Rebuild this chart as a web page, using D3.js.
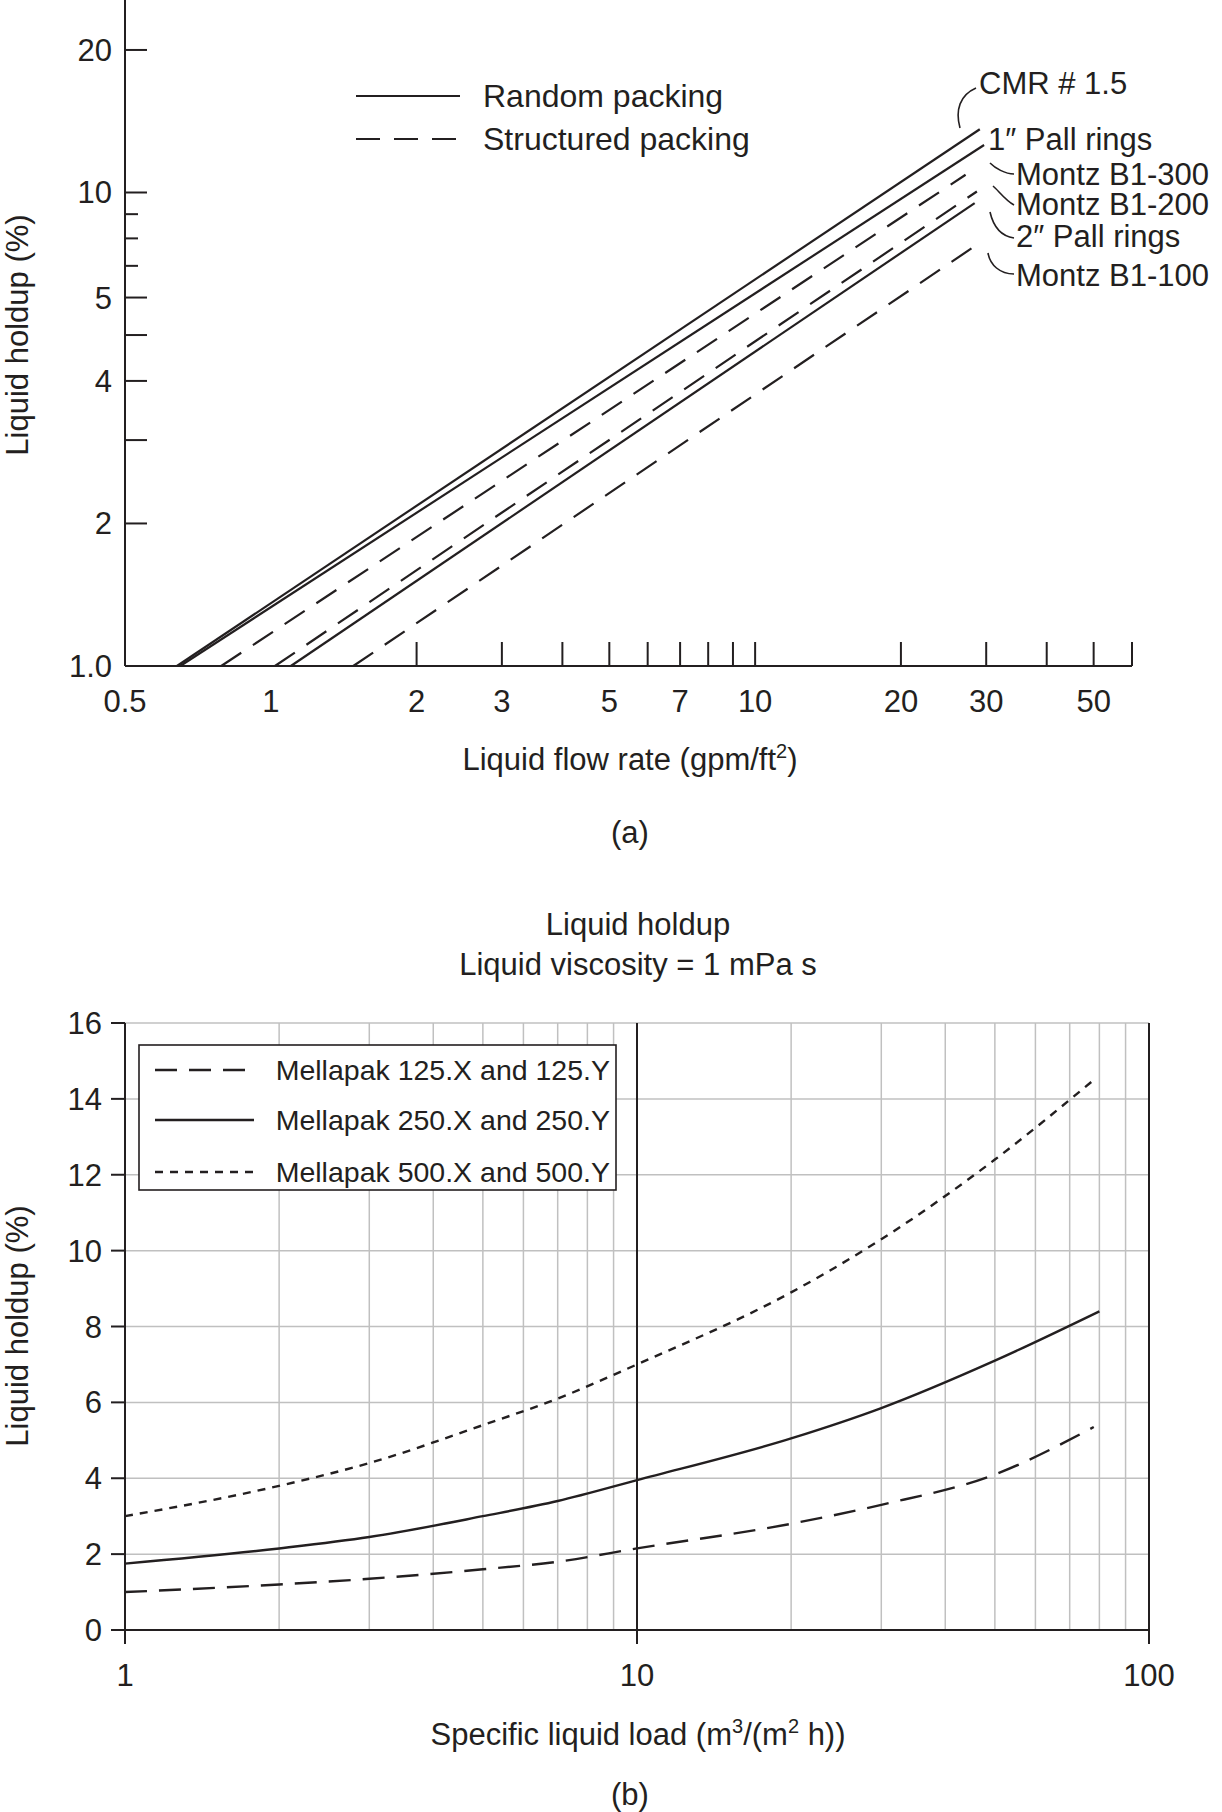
<!DOCTYPE html>
<html><head><meta charset="utf-8">
<script src="https://cdn.jsdelivr.net/npm/d3@7"></script>
<style>body{margin:0;background:#fff}svg{font-family:"Liberation Sans",Arial,sans-serif;fill:#231f20}</style>
</head><body><svg id="c" width="1222" height="1812"></svg>
<script>
// ---- Chart (a) data ----
const seriesA = ["CMR # 1.5","1″ Pall rings","Montz B1-300","Montz B1-200","2″ Pall rings","Montz B1-100"];
const typeA = ["solid","solid","dash","dash","solid","dash"];
const startA = [[0.64,1.0],[0.65,1.0],[0.79,1.0],[1.02,1.0],[1.10,1.0],[1.48,1.0]];
const endA = [[29.1,13.6],[29.7,12.6],[27.2,10.9],[28.7,10.05],[28.4,9.5],[28.4,7.7]];
const xTicksA = [2,3,4,5,6,7,8,9,10,20,30,40,50,60];
const xLabelsA = [0.5,1,2,3,5,7,10,20,30,50];
const yTicksA = [20,10,9,8,7,6,5,4,3,2,1];
const yLabelsA = {20:"20",10:"10",6:"5",4:"4",2:"2",1:"1.0"};
// ---- Chart (b) data ----
const xB = [1,2,3,5,7,10,20,30,50,78];
const m125 = [1.0,1.2,1.35,1.6,1.8,2.15,2.8,3.3,4.1,5.35];
const m250 = [1.75,2.15,2.45,3.0,3.4,3.95,5.05,5.85,7.1,8.4];
const m500 = [3.0,3.8,4.4,5.4,6.1,7.0,8.9,10.3,12.4,14.5];
const legendB = ["Mellapak 125.X and 125.Y","Mellapak 250.X and 250.Y","Mellapak 500.X and 500.Y"];
const yTicksB = [0,2,4,6,8,10,12,14,16];

const svg = d3.select("#c"), ink="#231f20";
const FS = 31;
// ===== (a) =====
const xa = d3.scaleLog().domain([0.5,60]).range([125,1132]);
const ya = d3.scaleLog().domain([1,25.5]).range([666,0]);
const ga = svg.append("g").attr("stroke",ink).attr("stroke-width",2);
ga.append("line").attr("x1",125).attr("x2",125).attr("y1",0).attr("y2",666);
ga.append("line").attr("x1",125).attr("x2",1132).attr("y1",666).attr("y2",666);
yTicksA.forEach(v=>{ const L = [9,8,7].includes(v)?13:22;
  ga.append("line").attr("x1",125).attr("x2",125+L).attr("y1",ya(v)).attr("y2",ya(v));});
xTicksA.forEach(v=>ga.append("line").attr("x1",xa(v)).attr("x2",xa(v)).attr("y1",666).attr("y2",642));
Object.entries(yLabelsA).forEach(([v,t])=>svg.append("text").attr("x",112).attr("y",ya(+v)+11).attr("text-anchor","end").attr("font-size",FS).text(t));
xLabelsA.forEach(v=>svg.append("text").attr("x",xa(v)).attr("y",712).attr("text-anchor","middle").attr("font-size",FS).text(v));
svg.append("text").attr("transform","translate(28,335) rotate(-90)").attr("text-anchor","middle").attr("font-size",FS).text("Liquid holdup (%)");
const xl = svg.append("text").attr("x",630).attr("y",770).attr("text-anchor","middle").attr("font-size",FS).text("Liquid flow rate (gpm/ft");
xl.append("tspan").attr("font-size",20).attr("dy",-12).text("2");
xl.append("tspan").attr("dy",12).text(")");
svg.append("text").attr("x",630).attr("y",843).attr("text-anchor","middle").attr("font-size",FS).text("(a)");
const lineA = d3.line().x(d=>xa(d[0])).y(d=>ya(d[1]));
seriesA.forEach((s,i)=>svg.append("path").attr("d",lineA([startA[i],endA[i]])).attr("fill","none").attr("stroke",ink).attr("stroke-width",2.2).attr("stroke-dasharray",typeA[i]==="dash"?"24,14":null));
// legend a
[["Random packing",null,96],["Structured packing","24,14",139]].forEach(([t,d,y])=>{
  svg.append("line").attr("x1",356).attr("x2",460).attr("y1",y).attr("y2",y).attr("stroke",ink).attr("stroke-width",2).attr("stroke-dasharray",d);
  svg.append("text").attr("x",483).attr("y",y+11).attr("font-size",32).text(t);});
// labels a
const labPos = [[979,94],[988,150],[1016,185],[1016,215],[1016,247],[1016,286]];
seriesA.forEach((s,i)=>svg.append("text").attr("x",labPos[i][0]).attr("y",labPos[i][1]).attr("font-size",31).text(s));
const lead = [
 `M976,88 C960,95 955,110 960,128`,
 null,
 `M1014,174 C1005,174 995,168 990,163`,
 `M1014,205 C1005,200 998,190 993,186`,
 `M1014,238 C1000,236 993,225 990,212`,
 `M1014,274 C1000,274 990,265 988,253`];
lead.forEach(d=>{ if(d) svg.append("path").attr("d",d).attr("fill","none").attr("stroke",ink).attr("stroke-width",1.6);});

// ===== (b) =====
const xb = d3.scaleLog().domain([1,100]).range([125,1149]);
const yb = d3.scaleLinear().domain([0,16]).range([1630,1023]);
const grid = svg.append("g").attr("stroke","#c0c0c0").attr("stroke-width",1.5);
for(let d=1; d<100; d*=10) for(let k=2;k<=9;k++){ const v=d*k; grid.append("line").attr("x1",xb(v)).attr("x2",xb(v)).attr("y1",1023).attr("y2",1630);}
yTicksB.slice(1).forEach(v=>grid.append("line").attr("x1",125).attr("x2",1149).attr("y1",yb(v)).attr("y2",yb(v)));
const gb = svg.append("g").attr("stroke",ink).attr("stroke-width",2);
gb.append("line").attr("x1",xb(10)).attr("x2",xb(10)).attr("y1",1023).attr("y2",1630);
gb.append("line").attr("x1",125).attr("x2",1149).attr("y1",1630).attr("y2",1630);
gb.append("line").attr("x1",125).attr("x2",125).attr("y1",1023).attr("y2",1630);
gb.append("line").attr("x1",1149).attr("x2",1149).attr("y1",1023).attr("y2",1630);
yTicksB.forEach(v=>{gb.append("line").attr("x1",111).attr("x2",125).attr("y1",yb(v)).attr("y2",yb(v));
  svg.append("text").attr("x",102).attr("y",yb(v)+11).attr("text-anchor","end").attr("font-size",FS).text(v);});
[1,10,100].forEach(v=>{gb.append("line").attr("x1",xb(v)).attr("x2",xb(v)).attr("y1",1630).attr("y2",1644);
  svg.append("text").attr("x",xb(v)).attr("y",1686).attr("text-anchor","middle").attr("font-size",FS).text(v);});
svg.append("text").attr("x",638).attr("y",935).attr("text-anchor","middle").attr("font-size",FS).text("Liquid holdup");
svg.append("text").attr("x",638).attr("y",975).attr("text-anchor","middle").attr("font-size",FS).text("Liquid viscosity = 1 mPa s");
svg.append("text").attr("transform","translate(28,1326) rotate(-90)").attr("text-anchor","middle").attr("font-size",FS).text("Liquid holdup (%)");
const xl2 = svg.append("text").attr("x",638).attr("y",1745).attr("text-anchor","middle").attr("font-size",FS).text("Specific liquid load (m");
xl2.append("tspan").attr("font-size",20).attr("dy",-12).text("3");
xl2.append("tspan").attr("dy",12).text("/(m");
xl2.append("tspan").attr("font-size",20).attr("dy",-12).text("2");
xl2.append("tspan").attr("dy",12).text(" h))");
svg.append("text").attr("x",630).attr("y",1805).attr("text-anchor","middle").attr("font-size",FS).text("(b)");
const lineB = d3.line().x(d=>xb(d[0])).y(d=>yb(d[1])).curve(d3.curveMonotoneX);
const dashes = ["22,12",null,"8,7"];
[m125,m250,m500].forEach((arr,i)=>{
  const xs = xB.map((x,j)=> (i===1 && j===xB.length-1)?80:x);
  svg.append("path").attr("d",lineB(xs.map((x,j)=>[x,arr[j]]))).attr("fill","none").attr("stroke",ink).attr("stroke-width",2.4).attr("stroke-dasharray",dashes[i]);});
svg.append("rect").attr("x",139).attr("y",1045).attr("width",477).attr("height",145).attr("fill","#fff").attr("stroke",ink).attr("stroke-width",1.6);
[1070,1120,1172].forEach((y,i)=>{
  svg.append("line").attr("x1",155).attr("x2",254).attr("y1",y).attr("y2",y).attr("stroke",ink).attr("stroke-width",2.4).attr("stroke-dasharray",dashes[i]);
  svg.append("text").attr("x",610).attr("y",y+10).attr("text-anchor","end").attr("font-size",28.5).text(legendB[i]);});
</script></body></html>
